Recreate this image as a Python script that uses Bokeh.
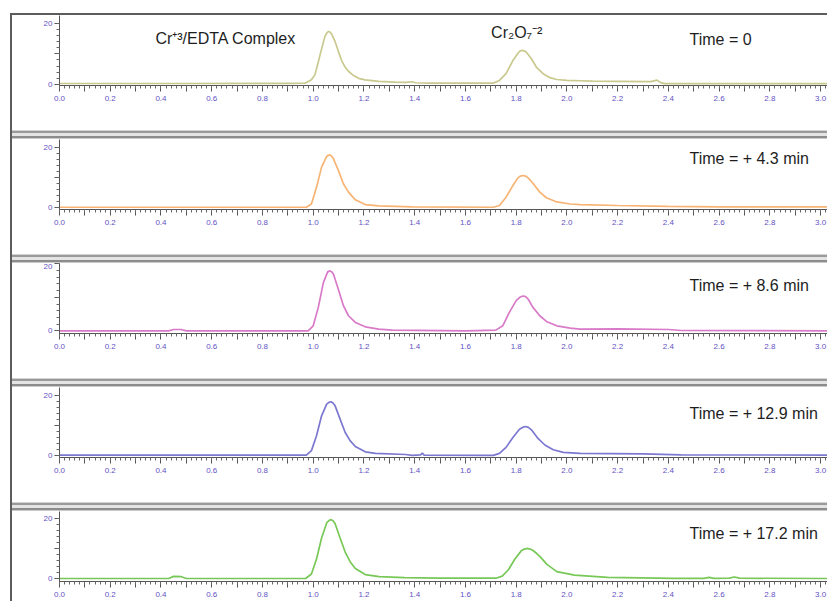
from bokeh.plotting import figure
from bokeh.layouts import column
from bokeh.models import FixedTicker, Label, PrintfTickFormatter, Range1d
from bokeh.embed import file_html
from bokeh.resources import INLINE

# ---- data (retention time in min, detector response) ----
t_p1 = [0.0, 0.5, 0.9, 0.967, 0.973, 0.993, 1.007, 1.02, 1.033, 1.046, 1.053, 1.06, 1.066, 1.073, 1.086,
        1.099, 1.112, 1.126, 1.139, 1.159, 1.179, 1.205, 1.258, 1.324, 1.364, 1.39, 1.403, 1.456, 1.6, 1.71,
        1.734, 1.76, 1.787, 1.807, 1.815, 1.823, 1.831, 1.84, 1.86, 1.88, 1.906, 1.933, 1.96, 2.0, 2.052,
        2.1, 2.2, 2.33, 2.355, 2.37, 2.385, 2.5, 2.8, 3.03]
s_p1 = [0.3, 0.3, 0.35, 0.43, 0.65, 1.5, 3.2, 7.3, 11.6, 15.6, 16.7, 17.3, 17.1, 16.4, 14.0,
        10.8, 7.8, 5.6, 4.3, 2.9, 2.0, 1.5, 1.0, 0.76, 0.65, 0.87, 0.54, 0.43, 0.43, 0.43,
        1.3, 3.5, 7.8, 10.2, 10.9, 11.1, 11.0, 10.5, 8.4, 5.6, 3.5, 2.2, 1.6, 1.3, 1.2,
        1.1, 1.0, 0.9, 1.4, 0.6, 0.25, 0.25, 0.25, 0.25]

t_p2 = [0.0, 0.5, 0.973, 0.993, 1.013, 1.033, 1.053, 1.06, 1.066, 1.073, 1.08, 1.099, 1.119, 1.139, 1.166,
        1.205, 1.258, 1.39, 1.71, 1.734, 1.76, 1.787, 1.807, 1.817, 1.827, 1.837, 1.847, 1.866, 1.893, 1.919,
        1.96, 2.013, 2.052, 2.2, 2.4, 2.6, 3.03]
s_p2 = [0.0, 0.0, 0.0, 1.1, 6.7, 13.5, 17.1, 17.5, 17.6, 17.2, 16.3, 12.4, 7.9, 5.1, 2.5,
        0.9, 0.5, 0.1, 0.0, 0.6, 3.4, 7.3, 9.9, 10.5, 10.7, 10.5, 9.9, 8.1, 5.1, 3.2,
        1.8, 1.1, 0.9, 0.6, 0.3, 0.1, 0.1]

t_p3 = [0.0, 0.43, 0.45, 0.48, 0.5, 0.98, 1.0, 1.02, 1.04, 1.057, 1.066, 1.073, 1.08, 1.099, 1.119,
        1.139, 1.166, 1.205, 1.258, 1.311, 1.602, 1.72, 1.747, 1.773, 1.8, 1.814, 1.827, 1.837, 1.847, 1.866,
        1.893, 1.919, 1.96, 2.013, 2.052, 2.2, 2.4, 2.45, 3.03]
s_p3 = [0.0, 0.0, 0.4, 0.4, 0.0, 0.0, 1.5, 7.0, 14.4, 17.6, 17.9, 17.6, 16.9, 12.4, 7.5,
        4.5, 2.5, 1.2, 0.5, 0.2, 0.0, 0.2, 1.5, 5.5, 9.0, 10.0, 10.4, 10.2, 9.5, 7.0,
        4.5, 2.8, 1.5, 0.8, 0.5, 0.6, 0.4, 0.1, 0.0]

t_p4 = [0.0, 0.5, 0.973, 0.993, 1.013, 1.033, 1.053, 1.062, 1.07, 1.078, 1.086, 1.106, 1.126, 1.146, 1.166,
        1.205, 1.245, 1.364, 1.39, 1.423, 1.43, 1.437, 1.71, 1.734, 1.76, 1.787, 1.813, 1.825, 1.837, 1.848,
        1.86, 1.886, 1.913, 1.946, 1.986, 2.052, 2.3, 2.45, 3.03]
s_p4 = [0.1, 0.1, 0.1, 1.6, 6.6, 13.3, 17.2, 17.8, 18.0, 17.6, 16.7, 12.2, 7.7, 4.9, 3.0,
        1.2, 0.7, 0.3, 0.0, 0.2, 0.8, 0.1, 0.0, 0.7, 2.7, 6.0, 8.8, 9.4, 9.7, 9.4,
        8.6, 5.7, 3.5, 1.9, 1.0, 0.7, 0.5, 0.2, 0.1]

t_p5 = [0.0, 0.43, 0.45, 0.48, 0.5, 0.97, 0.993, 1.013, 1.033, 1.053, 1.062, 1.07, 1.078, 1.086, 1.106,
        1.126, 1.146, 1.166, 1.205, 1.26, 1.36, 1.5, 1.72, 1.745, 1.77, 1.795, 1.82, 1.832, 1.845, 1.855,
        1.865, 1.88, 1.895, 1.92, 1.96, 2.03, 2.16, 2.42, 2.54, 2.56, 2.58, 2.64, 2.66, 2.68, 3.03]
s_p5 = [0.0, 0.0, 0.7, 0.6, 0.0, 0.0, 1.5, 6.5, 13.5, 18.5, 19.3, 19.6, 19.2, 18.3, 13.5,
        8.8, 5.5, 3.3, 1.3, 0.6, 0.3, 0.1, 0.1, 0.8, 3.0, 6.5, 9.2, 9.8, 10.0, 9.8,
        9.4, 8.4, 7.2, 4.8, 2.3, 1.1, 0.4, 0.05, 0.05, 0.4, 0.05, 0.1, 0.5, 0.1, 0.0]

times = [t_p1, t_p2, t_p3, t_p4, t_p5]
signals = [s_p1, s_p2, s_p3, s_p4, s_p5]
time_labels = ["Time = 0", "Time = + 4.3 min", "Time = + 8.6 min", "Time = + 12.9 min", "Time = + 17.2 min"]
line_colors = ["#c9c98f", "#f7b474", "#d97ac8", "#7c78d0", "#78c858"]

x_major = [round(i * 0.1, 1) for i in range(31)]
x_minor = [round(i * 0.02, 2) for i in range(152)]
x_overrides = {t: "" for i, t in enumerate(x_major) if i % 2 == 1}
y_major = [0, 10, 20]
y_minor = list(range(0, 21, 2))
y_overrides = {10: ""}

# ---- layout per panel ----
y_ranges = [(-0.35, 22.5), (-0.75, 22.8), (-0.8, 20.1), (-0.7, 22.8), (-1.0, 22.3)]
heights = [115, 115, 115, 115, 90]
label_y = [14.66, 16.4, 13.53, 14.07, 14.98]

FONT = "Liberation Sans"
TICK_COLOR = "#5f52c4"

figs = []
for i in range(5):
    p = figure(width=815, height=heights[i], x_range=Range1d(0, 3.027),
               y_range=Range1d(*y_ranges[i]), output_backend="svg", toolbar_location=None,
               min_border_left=47, min_border_right=0, min_border_top=0,
               min_border_bottom=heights[i] - 70)
    p.xgrid.visible = False
    p.ygrid.visible = False
    p.outline_line_color = None
    p.background_fill_color = "white"
    p.border_fill_color = "white"
    p.line(times[i], signals[i], line_color=line_colors[i], line_width=1.7)

    xa = p.xaxis[0]
    xa.ticker = FixedTicker(ticks=x_major, minor_ticks=x_minor)
    xa.formatter = PrintfTickFormatter(format="%.1f")
    xa.major_label_overrides = x_overrides
    xa.major_tick_in = 0
    xa.major_tick_out = 6
    xa.minor_tick_in = 0
    xa.minor_tick_out = 3
    xa.axis_line_color = "#555555"
    xa.major_tick_line_color = "#555555"
    xa.minor_tick_line_color = "#666666"
    xa.major_label_text_color = TICK_COLOR
    xa.major_label_text_font = FONT
    xa.major_label_text_font_size = "8px"
    xa.major_label_standoff = 4

    ya = p.yaxis[0]
    ya.ticker = FixedTicker(ticks=y_major, minor_ticks=y_minor)
    ya.major_label_overrides = y_overrides
    ya.major_tick_in = 0
    ya.major_tick_out = 5
    ya.minor_tick_in = 0
    ya.minor_tick_out = 3
    ya.axis_line_color = "#555555"
    ya.major_tick_line_color = "#555555"
    ya.minor_tick_line_color = "#666666"
    ya.major_label_text_color = TICK_COLOR
    ya.major_label_text_font = FONT
    ya.major_label_text_font_size = "8px"
    ya.major_label_standoff = 2

    p.add_layout(Label(x=2.483, y=label_y[i], text=time_labels[i], text_font=FONT,
                       text_font_size="16px", text_color="#1e1e1e", text_baseline="middle"))
    figs.append(p)

figs[0].add_layout(Label(x=0.378, y=15.0, text="Cr\u207a\u00b3/EDTA Complex", text_font=FONT,
                         text_font_size="16px", text_color="#1e1e1e", text_baseline="middle"))
figs[0].add_layout(Label(x=1.701, y=16.95, text="Cr\u2082O\u2087\u207b\u00b2", text_font=FONT,
                         text_font_size="16px", text_color="#1e1e1e", text_baseline="middle"))

sep = ("repeating-linear-gradient(to bottom, #ffffff 0px, #ffffff 115px, "
       "#d2d2d2 115px, #d2d2d2 116px, #9a9a9a 116px, #9a9a9a 118px, "
       "#e4e4e4 118px, #e4e4e4 121px, #8c8c8c 121px, #8c8c8c 123px, "
       "#cacaca 123px, #cacaca 124px)")

layout = column(*figs, spacing=9, styles={
    "background-image": sep,
    "border-top": "2px solid #5c5c5c",
    "border-left": "2px solid #5c5c5c",
    "margin-top": "13px",
    "margin-left": "10px",
})

open("out.html", "w").write(file_html(layout, INLINE))
